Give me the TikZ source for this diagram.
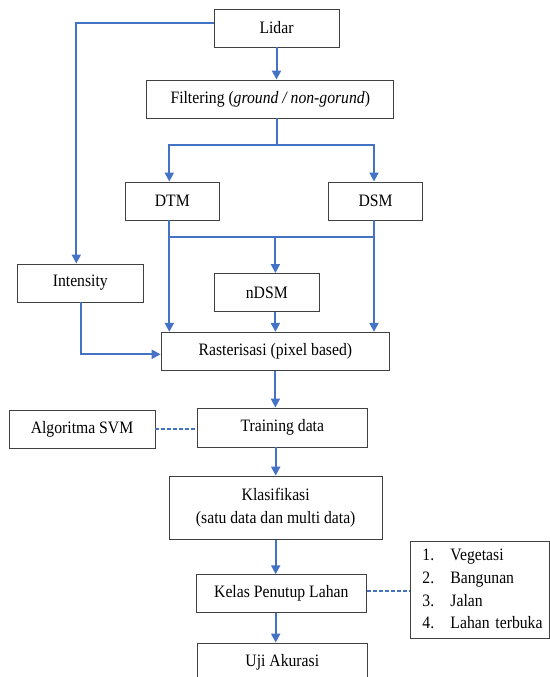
\documentclass[tikz,border=0pt]{standalone}
\usepackage{fontspec}
\setmainfont{Liberation Serif}[FakeStretch=0.9]
\usetikzlibrary{arrows.meta,positioning,calc}
\definecolor{flowblue}{HTML}{4472C4}
\tikzset{box/.style={draw=black!75,line width=0.9bp,fill=white,inner sep=2bp,minimum height=38bp,align=center},edge/.style={-{Triangle[width=9bp,length=9bp]},line width=2bp,draw=flowblue},link/.style={line width=1.6bp,draw=flowblue,dash pattern=on 4bp off 2bp},line/.style={line width=2bp,draw=flowblue}}

\begin{document}
\begin{tikzpicture}[x=1bp,y=-1bp,font=\fontsize{17.5}{22.7}\selectfont]
\useasboundingbox (0,0) rectangle (550,677);
\clip (0,0) rectangle (550,677);
\node[box,minimum width=125bp] (lidar) at (276.5,28) {Lidar};
\node[box,minimum width=247bp] (filter) at (270.3,99) {Filtering (\textit{ground / non-gorund})};
\node[box,minimum width=94.5bp] (dtm) at (172.3,201) {DTM};
\node[box,minimum width=94bp] (dsm) at (375.6,201) {DSM};
\node[box,minimum width=125.5bp] (intensity) at (80.3,283) {Intensity};
\node[box,minimum width=105.6bp] (ndsm) at (266.8,292.5) {nDSM};
\node[box,minimum width=228.6bp] (raster) at (275.4,351.3) {Rasterisasi (pixel based)};
\node[box,minimum width=146bp] (svm) at (82,429) {Algoritma SVM};
\node[box,minimum width=170.5bp,minimum height=39bp] (train) at (282.3,427.5) {Training data};
\node[box,minimum width=212.6bp,minimum height=63.3bp] (klas) at (275.7,507.7) {Klasifikasi\\(satu data dan multi data)};
\node[box,minimum width=170.5bp] (kelas) at (281.3,593.7) {Kelas Penutup Lahan};
\node[box,anchor=west,minimum height=97bp,inner xsep=12bp,text width=115bp,align=left] (kelaslist) at (410,590.2) {%
\begin{tabular}{@{}p{28bp}@{}l@{}}
1. & Vegetasi\\
2. & Bangunan\\
3. & Jalan\\
4. & Lahan terbuka
\end{tabular}};
\node[box,minimum width=170.5bp] (uji) at (282.3,662) {Uji Akurasi};
% lidar dan filtering
\draw[edge] ([yshift=5bp]lidar.west) -| ([xshift=-4bp]intensity.north);
\draw[edge] (lidar.south) -- (lidar.south |- filter.north);
\draw[edge] (lidar.south |- filter.south) -- ++(0,27) coordinate (split) -| ([xshift=-3bp]dtm.north);
\draw[edge] (split) -| ([xshift=-1.6bp]dsm.north);
% DTM, DSM ke nDSM dan rasterisasi
\draw[edge] ([xshift=-3bp]dtm.south) -- ([xshift=-3bp]dtm.south |- raster.north);
\draw[edge] ([xshift=-1.6bp]dsm.south) -- ([xshift=-1.6bp]dsm.south |- raster.north);
\path ([xshift=-3bp]dtm.south) ++(0,17) coordinate (merge);
\draw[line] (merge) -- ([xshift=-1.6bp]merge -| dsm.south);
\draw[edge] (merge -| raster.north) -- (raster.north |- ndsm.north);
\draw[edge] (raster.north |- ndsm.south) -- (raster.north);
\draw[edge] ([xshift=1bp]intensity.south) |- ([yshift=-3bp]raster.west);
% klasifikasi
\draw[edge] (raster.south) -- (raster.south |- train.north);
\draw[link] (svm.east) -- (svm.east -| train.west);
\draw[edge] (klas.north |- train.south) -- (klas.north);
\draw[edge] (klas.south) -- (klas.south |- kelas.north);
\draw[link] ([yshift=2.7bp]kelas.east) -- ([yshift=2.7bp]kelas.east -| kelaslist.west);
\draw[edge] (klas.south |- kelas.south) -- (klas.south |- uji.north);
\end{tikzpicture}
\end{document}
